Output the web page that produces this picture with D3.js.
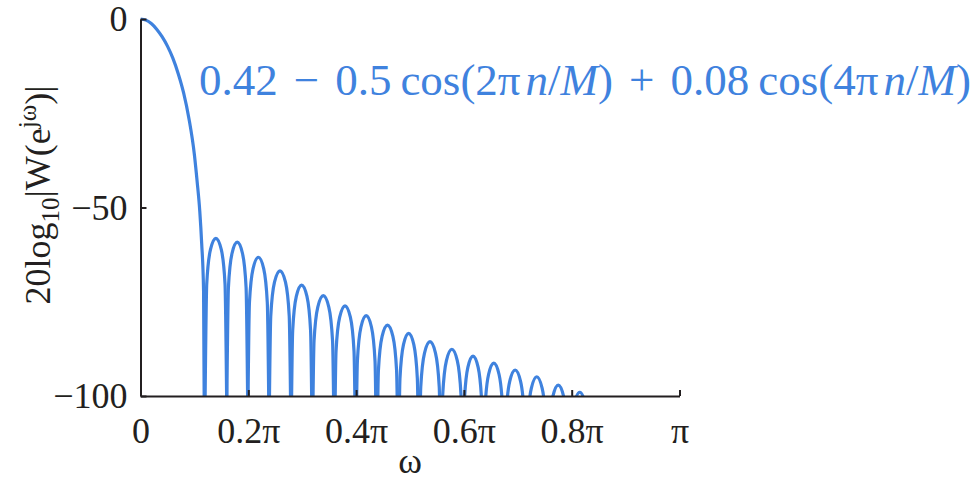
<!DOCTYPE html>
<html><head><meta charset="utf-8">
<script src="https://cdn.jsdelivr.net/npm/d3@7/dist/d3.min.js"></script>
<style>
html,body{margin:0;padding:0;background:#fff;}
svg text{font-family:"Liberation Serif","Times New Roman",serif;}
</style></head>
<body><svg id="chart" width="974" height="483"></svg>
<script>
// ---- data ----
const xTickValues = [0, 0.2, 0.4, 0.6, 0.8, 1];
const xTickLabels = ["0", "0.2π", "0.4π", "0.6π", "0.8π", "π"];
const yTickValues = [0, -50, -100];
const yTickLabels = ["0", "−50", "−100"];
// main lobe: [omega/pi, dB]
const mainLobe = [[0,0],[0.01,-0.3],[0.02,-1.2],[0.03,-2.7],[0.04,-4.7],[0.05,-7.2],[0.06,-10.4],
  [0.07,-14.5],[0.08,-19.6],[0.09,-26.5],[0.10,-36],[0.105,-43],[0.11,-51],[0.1135,-59.5],[0.117,-72],[0.1197,-140]];
// side lobes: null positions (omega/pi) and peak levels (dB)
const sidelobeNulls = [0.1197,0.160,0.199,0.2384,0.2792,0.3187,0.3596,0.3993,0.4382,0.4783,
  0.5167,0.5575,0.5978,0.636,0.675,0.7152,0.7551,0.795,0.8349];
const sidelobePeaks = [-58.2,-59.2,-63.2,-66.8,-70.6,-73.4,-76.1,-78.7,-81.2,-83.4,
  -85.6,-87.6,-89.4,-91.3,-93.1,-94.9,-97.1,-99.0];
// shape of one side lobe: [fraction across lobe, dB relative to its peak]
const lobeProfile = [[0,-45],[0.08,-12],[0.25,-3],[0.5,0],[0.75,-3],[0.92,-12],[1,-45]];
// formula pieces: [text, italic?, extra gap before]
const formulaParts = [["0.42",0,0],["−",0,16],["0.5",0,16],["cos(2π",0,9],["n",1,5],["/",0,0],["M",1,0],[")",0,0],
  ["+",0,16],["0.08",0,16],["cos(4π",0,9],["n",1,5],["/",0,0],["M",1,0],[")",0,0]];

// ---- drawing ----
const svg = d3.select("#chart");
const blue = "#3f82de", ink = "#231f20";
const x = d3.scaleLinear().domain([0, 1]).range([140.5, 679.5]);
const y = d3.scaleLinear().domain([-100, 0]).range([396, 19]);

svg.append("clipPath").attr("id","clip").append("rect")
  .attr("x", x(0)).attr("y", 0).attr("width", x(1)-x(0)+10).attr("height", y(-100));

const line = d3.line().x(d => x(d[0])).y(d => y(d[1])).curve(d3.curveMonotoneX);
const g = svg.append("g").attr("clip-path","url(#clip)");
g.append("path").attr("d", line(mainLobe)).attr("fill","none").attr("stroke",blue)
  .attr("stroke-width",3.2).attr("stroke-linejoin","round");
sidelobePeaks.forEach((pk, i) => {
  const a = sidelobeNulls[i], b = sidelobeNulls[i+1];
  const pts = lobeProfile.map(p => [a + p[0]*(b-a), pk + p[1]]);
  g.append("path").attr("d", line(pts)).attr("fill","none").attr("stroke",blue)
    .attr("stroke-width",3.2).attr("stroke-linejoin","round");
});

// axes
const xAxis = d3.axisBottom(x).tickValues(xTickValues).tickSizeInner(-6).tickSizeOuter(0)
  .tickFormat((d,i) => xTickLabels[i]).tickPadding(21);
const gx = svg.append("g").attr("transform",`translate(0,${y(-100)})`).call(xAxis);
gx.select(".domain").attr("stroke",ink).attr("stroke-width",2);
gx.selectAll(".tick line").attr("stroke",ink).attr("stroke-width",2);
gx.selectAll(".tick text").attr("fill",ink).attr("font-size",36);

const yAxis = d3.axisLeft(y).tickValues(yTickValues).tickSizeInner(-6).tickSizeOuter(0)
  .tickFormat((d,i) => yTickLabels[i]).tickPadding(13);
const gy = svg.append("g").attr("transform",`translate(${x(0)},0)`).call(yAxis);
gy.select(".domain").attr("stroke",ink).attr("stroke-width",2);
gy.selectAll(".tick line").attr("stroke",ink).attr("stroke-width",2);
gy.selectAll(".tick text").attr("fill",ink).attr("font-size",36);

// axis titles
svg.append("text").attr("x", (x(0)+x(1))/2).attr("y", 473).attr("text-anchor","middle")
  .attr("fill",ink).attr("font-size",36).text("ω");

const yl = svg.append("text").attr("transform","translate(50,195) rotate(-90)")
  .attr("text-anchor","middle").attr("fill",ink).attr("font-size",36);
yl.append("tspan").text("20log");
yl.append("tspan").attr("dy",9).attr("font-size",25).text("10");
yl.append("tspan").attr("dy",-9).text("|W(e");
yl.append("tspan").attr("dy",-14).attr("font-size",25).text("jω");
yl.append("tspan").attr("dy",14).text(")|");

// formula annotation
const ft = svg.append("text").attr("x",199).attr("y",95).attr("fill",blue).attr("font-size",45);
formulaParts.forEach(p => {
  const t = ft.append("tspan").attr("dx", p[2]).text(p[0]);
  if (p[1]) t.attr("font-style","italic");
});
</script></body></html>
